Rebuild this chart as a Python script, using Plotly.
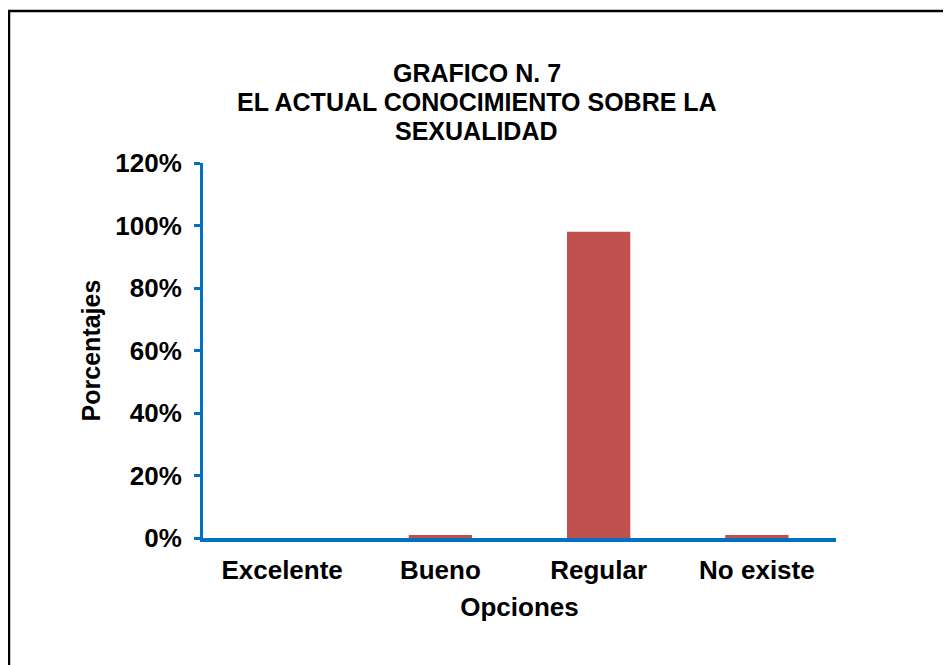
import plotly.graph_objects as go

categories = ["Excelente", "Bueno", "Regular", "No existe"]
values = [0.0, 0.01, 0.98, 0.01]
y_ticks = [0, 0.2, 0.4, 0.6, 0.8, 1.0, 1.2]
y_tick_labels = ["0%", "20%", "40%", "60%", "80%", "100%", "120%"]
title_lines = ["GRAFICO N. 7", "EL ACTUAL CONOCIMIENTO SOBRE LA", "SEXUALIDAD"]

# page has an 8px body margin, so the figure is a bit smaller than the window
OFF = 8
W, H = 951 - OFF, 665 - OFF
L, T = 203 - OFF, 163 - OFF
pw, ph = 633, 375
R, B = W - L - pw, H - T - ph

def px_x(page_px):
    return (page_px - OFF - L) / pw

def px_y(page_py):
    return (T + ph - (page_py - OFF)) / ph

FONT = "Liberation Sans, Arial, sans-serif"
BLUE = "#0070C0"
FS = 26

fig = go.Figure(
    go.Bar(
        x=categories,
        y=values,
        marker=dict(color="#C0504D", line=dict(width=0)),
        width=0.4,
    )
)

title_y_centers = [73, 102, 131]
annotations = [
    dict(
        text="<b>" + line + "</b>",
        xref="paper",
        yref="paper",
        x=px_x(476.5),
        y=px_y(yc),
        xanchor="center",
        yanchor="middle",
        showarrow=False,
        font=dict(size=25, family=FONT, color="black"),
    )
    for line, yc in zip(title_lines, title_y_centers)
]

fig.update_layout(
    width=W,
    height=H,
    margin=dict(l=L, r=R, t=T, b=B, autoexpand=False),
    paper_bgcolor="white",
    plot_bgcolor="white",
    showlegend=False,
    font=dict(family=FONT, color="black"),
    annotations=annotations,
    xaxis=dict(
        showline=True,
        linecolor=BLUE,
        linewidth=4,
        ticks="",
        showgrid=False,
        tickfont=dict(size=FS, family=FONT, color="black", weight="bold"),
        title=dict(text="<b>Opciones</b>", font=dict(size=FS, family=FONT), standoff=15),
        ticklabelstandoff=6,
    ),
    yaxis=dict(
        range=[0, 1.2],
        tickvals=y_ticks,
        ticktext=["<b>" + t + "</b>" for t in y_tick_labels],
        showline=True,
        linecolor=BLUE,
        linewidth=3,
        ticks="outside",
        ticklen=6,
        tickwidth=3,
        tickcolor=BLUE,
        showgrid=False,
        zeroline=False,
        tickfont=dict(size=FS, family=FONT, color="black"),
        title=dict(text="<b>Porcentajes</b>", font=dict(size=25, family=FONT), standoff=8),
        ticklabelstandoff=7,
    ),
    shapes=[
        dict(
            type="rect",
            xref="paper",
            yref="paper",
            x0=px_x(9),
            x1=px_x(990),
            y0=px_y(700),
            y1=px_y(11),
            line=dict(color="black", width=2.5),
            fillcolor="rgba(0,0,0,0)",
            layer="below",
        )
    ],
)

fig.write_html("out.html")
